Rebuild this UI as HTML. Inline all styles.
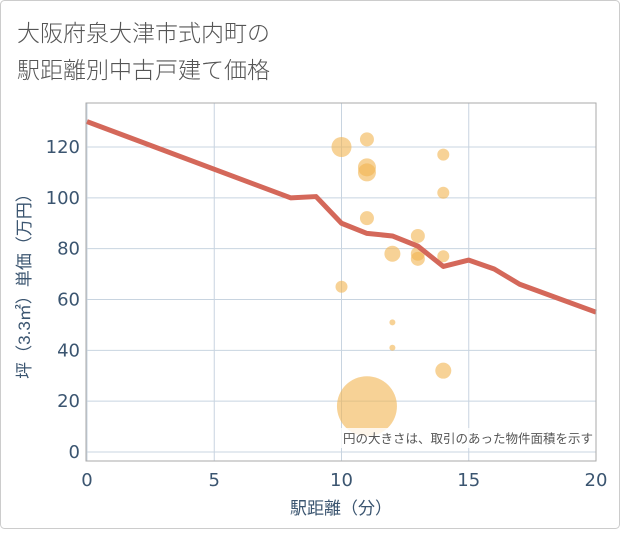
<!DOCTYPE html>
<html><head><meta charset="utf-8"><style>
body{margin:0;background:#fff;}
svg text{font-family:"Liberation Sans","Noto Sans CJK JP",sans-serif;}
svg text.tk{font-family:"DejaVu Sans","Liberation Sans",sans-serif;}
</style></head><body>
<svg width="621" height="530" xmlns="http://www.w3.org/2000/svg">
<rect x="0.5" y="0.5" width="619" height="528" rx="4" fill="#fff" stroke="#ccc"/>
<text x="17" y="41" font-size="23" font-weight="300" fill="#555" style="font-family:'Noto Sans CJK JP',sans-serif">大阪府泉大津市式内町の</text>
<text x="17" y="78" font-size="23" font-weight="300" fill="#555" style="font-family:'Noto Sans CJK JP',sans-serif">駅距離別中古戸建て価格</text>
<g id="grid"></g>
<g id="marks"></g>
<rect x="86" y="103" width="510" height="358" fill="none" stroke="#aaa"/>
<g id="axes"></g>
<text x="341" y="514" font-size="17" fill="#3b5570" text-anchor="middle">駅距離（分）</text>
<text transform="translate(30,282) rotate(-90)" font-size="17" fill="#3b5570" text-anchor="middle">坪（3.3㎡）単価（万円）</text>
</svg>
<script>
const xTicks=[0,5,10,15,20];
const yTicks=[0,20,40,60,80,100,120];
const lineX=[0,8,9,10,11,12,13,14,15,16,17,20];
const lineY=[130,100,100.5,90,86,85,81,73,75.5,72,66,55];
const bubX=[10,11,11,11,14,14,11,13,12,13,13,14,10,12,12,14,11];
const bubY=[120,123,112,110,117,102,92,85,78,78,76,77,65,51,41,32,18];
const bubR=[10,7,9,9,6,6,7,7,8,7,7,6,6,3,3,8,30];
const NS='http://www.w3.org/2000/svg';
const X=v=>87+v*(596-87)/20;
const Y=v=>452-v*(452-147)/120;
function mk(t,a,p){const e=document.createElementNS(NS,t);for(const k in a)e.setAttribute(k,a[k]);p.appendChild(e);return e;}
const g=document.getElementById('grid'),m=document.getElementById('marks'),ax=document.getElementById('axes');
xTicks.forEach(v=>{const l=mk('line',{x1:X(v),x2:X(v),y1:103,y2:461,stroke:'#c8d4e0'},g);


const t=mk('text',{x:X(v),y:486,'font-size':18,fill:'#3b5570','text-anchor':'middle',class:'tk'},ax);t.textContent=v;

});
yTicks.forEach(v=>{const l=mk('line',{x1:86,x2:596,y1:Y(v),y2:Y(v),stroke:'#c8d4e0'},g);


const t=mk('text',{x:80,y:Y(v)+6,'font-size':18,fill:'#3b5570','text-anchor':'end',class:'tk'},ax);t.textContent=v;

});
bubX.forEach((v,i)=>{const c=mk('circle',{cx:X(v),cy:Y(bubY[i]),r:bubR[i],fill:'#f2b450','fill-opacity':0.6},m);

});
const p=mk('polyline',{points:lineX.map((v,i)=>X(v)+','+Y(lineY[i])).join(' '),fill:'none',stroke:'#d4685a','stroke-width':5,'stroke-linejoin':'round'},m);


const nb=mk('rect',{x:318,y:428,width:277,height:20,fill:'#fff','fill-opacity':0.8},m);


const nt=mk('text',{x:593,y:443,'font-size':12.5,fill:'#555','text-anchor':'end'},m);nt.textContent='円の大きさは、取引のあった物件面積を示す';


</script>
</body></html>
